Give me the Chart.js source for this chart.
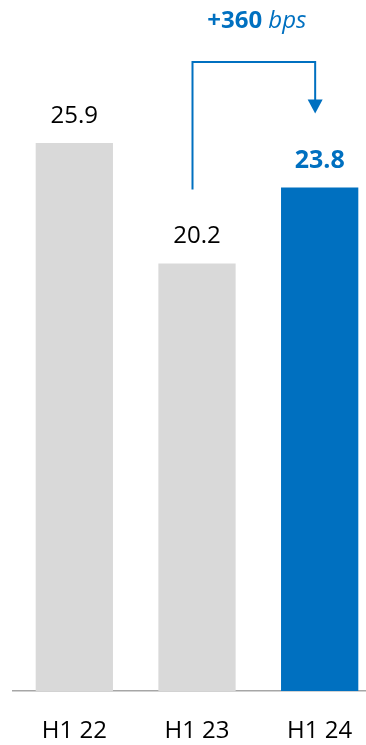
<!DOCTYPE html>
<html>
<head>
<meta charset="utf-8">
<script src="https://cdn.jsdelivr.net/npm/chart.js@4/dist/chart.umd.min.js"></script>
<style>
  html, body { margin: 0; padding: 0; background: #fff; overflow: hidden; width: 366px; height: 745px; }
  #wrap { position: relative; width: 381px; height: 772px; }
</style>
</head>
<body>
<div id="wrap"><canvas id="c" width="381" height="772"></canvas></div>
<script>
const categories = ["H1 22", "H1 23", "H1 24"];
const values = [25.9, 20.2, 23.8];
const barColors = ["#D9D9D9", "#D9D9D9", "#0070C0"];
const highlightIndex = 2;
const deltaLabelBold = "+360";
const deltaLabelItalic = "bps";

const BLUE = "#0070C0";
const FONT = "'Open Sans', 'Noto Sans', sans-serif";

const labelsPlugin = {
  id: "valueLabels",
  afterDatasetsDraw(chart) {
    const ctx = chart.ctx;
    const meta = chart.getDatasetMeta(0);
    ctx.save();
    ctx.textAlign = "center";
    ctx.textBaseline = "middle";
    meta.data.forEach((bar, i) => {
      const hl = i === highlightIndex;
      ctx.font = (hl ? "bold 25px " : "24px ") + FONT;
      ctx.fillStyle = hl ? BLUE : "#000";
      ctx.fillText(values[i].toFixed(1), bar.x, bar.y - 27);
    });

    // bracket arrow from bar 2 to bar 3
    const b1 = meta.data[1], b2 = meta.data[2];
    const y = chart.scales.y;
    const topY = y.getPixelForValue(Math.max(...values)) - 81;
    const x1 = b1.x - 4.5;
    const x2 = b2.x - 4.5;
    const y1 = b1.y - 74;
    const tipY = b2.y - 74;
    ctx.strokeStyle = BLUE;
    ctx.lineWidth = 2;
    ctx.beginPath();
    ctx.moveTo(x1, y1);
    ctx.lineTo(x1, topY);
    ctx.lineTo(x2, topY);
    ctx.lineTo(x2, tipY - 12);
    ctx.stroke();
    ctx.fillStyle = BLUE;
    ctx.beginPath();
    ctx.moveTo(x2 - 7.5, tipY - 14);
    ctx.lineTo(x2 + 7.5, tipY - 14);
    ctx.lineTo(x2, tipY);
    ctx.closePath();
    ctx.fill();

    // delta text
    const bold = "bold 24px " + FONT;
    const ital = "italic 24px " + FONT;
    ctx.font = bold;
    const w1 = ctx.measureText(deltaLabelBold + " ").width;
    ctx.font = ital;
    const w2 = ctx.measureText(deltaLabelItalic).width;
    const cx = (x1 + x2) / 2 + 3;
    const sx = cx - (w1 + w2) / 2;
    ctx.textAlign = "left";
    ctx.font = bold;
    ctx.fillText(deltaLabelBold + " ", sx, topY - 41);
    ctx.font = ital;
    ctx.fillText(deltaLabelItalic, sx + w1, topY - 41);
    ctx.restore();
  }
};

new Chart(document.getElementById("c"), {
  type: "bar",
  data: {
    labels: categories,
    datasets: [{
      data: values,
      backgroundColor: barColors,
      borderWidth: 0,
      categoryPercentage: 1.0,
      barPercentage: 0.63
    }]
  },
  options: {
    responsive: false,
    animation: false,
    events: [],
    layout: { padding: { left: 13, right: 0, top: 0, bottom: 0 } },
    plugins: { legend: { display: false }, tooltip: { enabled: false } },
    scales: {
      x: {
        grid: { display: false, drawTicks: false },
        border: { display: true, color: "#A6A6A6", width: 1.5 },
        ticks: {
          color: "#000",
          padding: 28.5,
          font: { family: FONT, size: 24, lineHeight: 1.0 }
        }
      },
      y: {
        display: false,
        min: 0,
        max: 32.66
      }
    }
  },
  plugins: [labelsPlugin]
});
</script>
</body>
</html>
